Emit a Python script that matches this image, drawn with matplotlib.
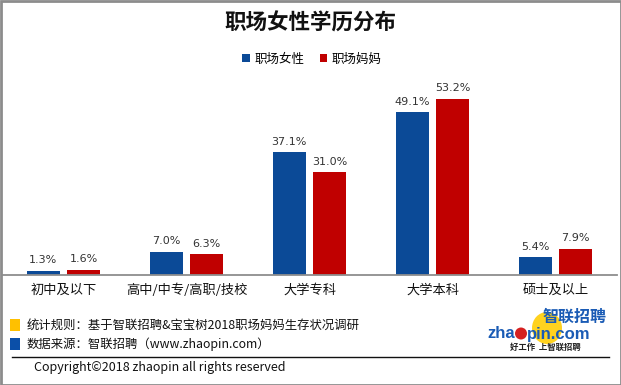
import matplotlib
matplotlib.use("Agg")
import matplotlib.pyplot as plt
from matplotlib.patches import Rectangle, Ellipse
from matplotlib.lines import Line2D

plt.rcParams['font.family'] = ['Noto Sans CJK SC', 'DejaVu Sans']

categories = ["初中及以下", "高中/中专/高职/技校", "大学专科", "大学本科", "硕士及以上"]
series_names = ["职场女性", "职场妈妈"]
women = [1.3, 7.0, 37.1, 49.1, 5.4]
mothers = [1.6, 6.3, 31.0, 53.2, 7.9]
title = "职场女性学历分布"
note1 = "统计规则：基于智联招聘&宝宝树2018职场妈妈生存状况调研"
note2 = "数据来源：智联招聘（www.zhaopin.com）"
copyright_text = "Copyright©2018 zhaopin all rights reserved"

BLUE = "#0B4A97"
RED = "#C00000"
YELLOW = "#FFC000"

W, H = 621, 385
fig = plt.figure(figsize=(W / 100, H / 100), dpi=100)

def fx(x):
    return x / W

def fy(y):
    return 1 - y / H

# outer border
fig.add_artist(Rectangle((0.5 / W, 0.5 / H), 1 - 1.0 / W, 1 - 1.0 / H,
                         transform=fig.transFigure, fill=False,
                         edgecolor="#8C8C8C", lw=2))

ax = fig.add_axes([fx(2), fy(275), (617 - 2) / W, (275 - 80) / H])
x = list(range(len(categories)))
bw = 0.265
off = 0.165
b1 = ax.bar([i - off for i in x], women, width=bw, color=BLUE, label=series_names[0])
b2 = ax.bar([i + off for i in x], mothers, width=bw, color=RED, label=series_names[1])
for bars, vals in ((b1, women), (b2, mothers)):
    for r, v in zip(bars, vals):
        ax.annotate(f"{v:.1f}%", (r.get_x() + r.get_width() / 2, r.get_height()),
                    xytext=(0, 4), textcoords="offset points", ha="center", va="bottom",
                    fontsize=8, color="#333333", family=["DejaVu Sans"])
ax.set_xlim(-0.5, len(categories) - 0.5)
ax.set_ylim(0, 58.9)
for s in ("top", "right", "left"):
    ax.spines[s].set_visible(False)
ax.spines["bottom"].set_color("#8E8E8E")
ax.spines["bottom"].set_linewidth(1.3)
ax.set_yticks([])
ax.set_xticks(x)
ax.set_xticklabels(categories, fontsize=9.5, color="#111111")
ax.tick_params(axis="x", length=0, pad=6.5)

fig.text(fx(310), fy(23), title, ha="center", va="center", fontsize=15.5,
         fontweight="bold", color="#111111")
fig.legend(handles=[b1, b2], labels=series_names, loc="center",
           bbox_to_anchor=(fx(312), fy(59)), ncol=2, frameon=False,
           fontsize=9, handlelength=0.6, handleheight=0.6, columnspacing=1.2,
           handletextpad=0.4, borderaxespad=0)

# footer
fig.add_artist(Rectangle((fx(10), fy(331)), 10 / W, 12 / H, transform=fig.transFigure,
                         color=YELLOW, lw=0))
fig.add_artist(Rectangle((fx(10), fy(350)), 10 / W, 12 / H, transform=fig.transFigure,
                         color="#0B4FA8", lw=0))
fig.text(fx(27), fy(325.5), note1, ha="left", va="center", fontsize=8.9, color="#111111")
fig.text(fx(27), fy(344.5), note2, ha="left", va="center", fontsize=8.9, color="#111111")
fig.add_artist(Line2D([fx(12), fx(609)], [fy(356.5), fy(356.5)], transform=fig.transFigure,
                      color="#111111", lw=1))
fig.text(fx(34), fy(368), copyright_text, ha="left", va="center", fontsize=9,
         color="#111111")

# logo
fig.add_artist(Ellipse((fx(547), fy(328)), 30 / W, 32 / H, transform=fig.transFigure,
                       color="#FFD21F", lw=0))
fig.text(fx(607), fy(317), "智联招聘", ha="right", va="center", fontsize=11.5,
         fontweight="bold", style="italic", color="#1A5BB5")
fig.text(fx(515), fy(334), "zha", ha="right", va="center", fontsize=12,
         fontweight="bold", color="#1A5BB5", family=["Liberation Sans"])
fig.add_artist(Ellipse((fx(521), fy(333.5)), 12 / W, 12 / H, transform=fig.transFigure,
                       color="#D62020", lw=0))
fig.text(fx(527), fy(334), "pin.com", ha="left", va="center", fontsize=12,
         fontweight="bold", color="#1A5BB5", family=["Liberation Sans"])
fig.text(fx(510), fy(347.5), "好工作  上智联招聘", ha="left", va="center", fontsize=6,
         fontweight="bold", style="italic", color="#222222")

fig.savefig("out.png", dpi=100)
